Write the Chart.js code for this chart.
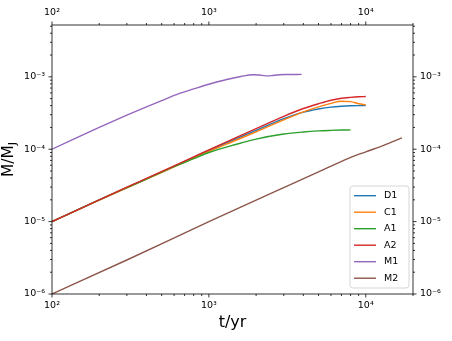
<!DOCTYPE html>
<html>
<head>
<meta charset="utf-8">
<script src="https://cdn.jsdelivr.net/npm/chart.js@4.4.0/dist/chart.umd.min.js"></script>
<style>
  html, body { margin: 0; padding: 0; background: #fff; }
  canvas { display: block; }
</style>
</head>
<body>
<canvas id="myChart" width="452" height="341"></canvas>
<script>
// time grids, yr
const tMain = [100, 150, 200, 300, 400, 600, 800, 1000, 1500, 2000, 3000, 4000, 5000, 6000, 7000, 8000, 9000, 10000];
const tA1 = [100, 150, 200, 300, 400, 600, 800, 1000, 1500, 2000, 3000, 4000, 5000, 6000, 7000, 8000];
const tM1 = [100, 150, 200, 300, 400, 500, 650, 800, 1000, 1300, 1600, 1900, 2100, 2300, 2500, 2800, 3200, 3900];
const tM2 = [100, 300, 1000, 3000, 5000, 7900, 10000, 13000, 17000];

// M/M_J values
const mD1 = [1e-5, 1.5e-5, 2e-5, 2.95e-5, 3.9e-5, 5.8e-5, 7.7e-5, 9.6e-5, 1.4e-4, 1.82e-4, 2.65e-4, 3.25e-4, 3.6e-4, 3.82e-4, 3.93e-4, 3.98e-4, 4.0e-4, 4.0e-4];
const mC1 = [1e-5, 1.49e-5, 1.98e-5, 2.92e-5, 3.85e-5, 5.7e-5, 7.5e-5, 9.3e-5, 1.34e-4, 1.74e-4, 2.55e-4, 3.28e-4, 3.85e-4, 4.3e-4, 4.6e-4, 4.55e-4, 4.25e-4, 4.1e-4];
const mA1 = [1e-5, 1.5e-5, 2e-5, 2.95e-5, 3.88e-5, 5.75e-5, 7.4e-5, 9.0e-5, 1.17e-4, 1.38e-4, 1.62e-4, 1.73e-4, 1.79e-4, 1.82e-4, 1.84e-4, 1.85e-4];
const mA2 = [1e-5, 1.5e-5, 2e-5, 3e-5, 3.95e-5, 5.9e-5, 7.85e-5, 9.8e-5, 1.46e-4, 1.93e-4, 2.85e-4, 3.65e-4, 4.25e-4, 4.75e-4, 5.05e-4, 5.2e-4, 5.3e-4, 5.35e-4];
const mM1 = [1e-4, 1.5e-4, 2e-4, 2.95e-4, 3.85e-4, 4.7e-4, 5.9e-4, 6.8e-4, 7.9e-4, 9.2e-4, 1.01e-3, 1.07e-3, 1.06e-3, 1.03e-3, 1.04e-3, 1.07e-3, 1.075e-3, 1.08e-3];
const mM2 = [1e-6, 2.95e-6, 1.0e-5, 2.95e-5, 4.85e-5, 7.6e-5, 9.2e-5, 1.13e-4, 1.43e-4];

const labels = ['D1', 'C1', 'A1', 'A2', 'M1', 'M2'];
const colors = ['#1f77b4', '#ff7f0e', '#2ca02c', '#d62728', '#9467bd', '#8c564b'];
const times = [tMain, tMain, tA1, tMain, tM1, tM2];
const masses = [mD1, mC1, mA1, mA2, mM1, mM2];

const xMin = 100, xMax = 20000;
const yMin = 1e-6, yMax = 5.2e-3;

const supMap = {'-': '⁻', '0': '⁰', '1': '¹', '2': '²', '3': '³', '4': '⁴', '5': '⁵', '6': '⁶', '7': '⁷', '8': '⁸', '9': '⁹'};
function powLabel(v) {
  const e = Math.log10(v);
  const r = Math.round(e);
  if (Math.abs(e - r) > 1e-6) return '';
  return '10' + String(r).split('').map(c => supMap[c]).join('');
}

const tickFont = { family: 'DejaVu Sans', size: 9.5 };

function logAxis(pos, lo, hi, size, pad) {
  return {
    type: 'logarithmic',
    position: pos,
    min: lo,
    max: hi,
    grid: { display: false, drawTicks: false },
    border: { display: false },
    ticks: { autoSkip: false, maxRotation: 0, padding: pad, color: '#000', font: tickFont, callback: v => powLabel(v) },
    afterFit: s => { if (pos === 'top' || pos === 'bottom') s.height = size; else s.width = size; }
  };
}

// frame, ticks, axis titles and legend
const decor = {
  id: 'decor',
  afterDraw(chart) {
    const { ctx, chartArea: a } = chart;
    ctx.save();
    ctx.strokeStyle = '#000';
    ctx.lineWidth = 0.8;
    ctx.strokeRect(a.left, a.top, a.right - a.left, a.bottom - a.top);

    ['x', 'x2', 'y', 'y2'].forEach(id => {
      const s = chart.scales[id];
      s.ticks.forEach(t => {
        const e = Math.floor(Math.log10(t.value) + 1e-9);
        const m = t.value / Math.pow(10, e);
        if (Math.abs(m - Math.round(m)) > 1e-6) return;
        const len = Math.round(m) === 1 ? 3.5 : 2;
        const p = s.getPixelForValue(t.value);
        ctx.beginPath();
        if (id === 'x') { ctx.moveTo(p, a.bottom); ctx.lineTo(p, a.bottom + len); }
        if (id === 'x2') { ctx.moveTo(p, a.top); ctx.lineTo(p, a.top - len); }
        if (id === 'y') { ctx.moveTo(a.left, p); ctx.lineTo(a.left - len, p); }
        if (id === 'y2') { ctx.moveTo(a.right, p); ctx.lineTo(a.right + len, p); }
        ctx.stroke();
      });
    });

    // axis titles
    ctx.fillStyle = '#000';
    ctx.font = '16px "DejaVu Sans"';
    ctx.textAlign = 'center';
    ctx.textBaseline = 'alphabetic';
    ctx.fillText('t/yr', (a.left + a.right) / 2, 326.5);

    ctx.save();
    ctx.translate(13, (a.top + a.bottom) / 2);
    ctx.rotate(-Math.PI / 2);
    const main = 'M/M';
    ctx.font = '15.5px "DejaVu Sans"';
    const w1 = ctx.measureText(main).width;
    ctx.font = '11px "DejaVu Sans"';
    const w2 = ctx.measureText('J').width;
    const x0 = -(w1 + w2) / 2;
    ctx.textAlign = 'left';
    ctx.font = '15.5px "DejaVu Sans"';
    ctx.fillText(main, x0, 0);
    ctx.font = '11px "DejaVu Sans"';
    ctx.fillText('J', x0 + w1, 3);
    ctx.restore();

    // legend
    const bx = 350, by = 186, bw = 59, bh = 102;
    ctx.beginPath();
    ctx.roundRect(bx, by, bw, bh, 3);
    ctx.fillStyle = 'rgba(255,255,255,0.8)';
    ctx.fill();
    ctx.strokeStyle = '#cccccc';
    ctx.lineWidth = 0.8;
    ctx.stroke();
    ctx.font = '9.5px "DejaVu Sans"';
    ctx.textAlign = 'left';
    ctx.textBaseline = 'middle';
    chart.data.datasets.forEach((ds, i) => {
      const yy = 195.7 + i * 16.5;
      ctx.strokeStyle = ds.borderColor;
      ctx.lineWidth = 1.4;
      ctx.beginPath();
      ctx.moveTo(354, yy);
      ctx.lineTo(376, yy);
      ctx.stroke();
      ctx.fillStyle = '#000';
      ctx.fillText(ds.label, 384, yy);
    });
    ctx.restore();
  }
};

const ctx = document.getElementById('myChart');
const myChart = new Chart(ctx, {
  type: 'line',
  data: {
    datasets: labels.map((name, i) => ({
      label: name,
      data: times[i].map((t, j) => ({ x: t, y: masses[i][j] })),
      borderColor: colors[i],
      backgroundColor: colors[i],
      borderWidth: 1.4,
      pointRadius: 0,
      cubicInterpolationMode: 'monotone',
      fill: false,
      order: labels.length - i,
      xAxisID: 'x',
      yAxisID: 'y'
    }))
  },
  options: {
    responsive: false,
    animation: false,
    events: [],
    layout: { padding: 0 },
    plugins: { legend: { display: false }, tooltip: { enabled: false } },
    scales: {
      x: logAxis('bottom', xMin, xMax, 47, 5.5),
      x2: logAxis('top', xMin, xMax, 25, 7),
      y: logAxis('left', yMin, yMax, 52, 7),
      y2: logAxis('right', yMin, yMax, 39, 7)
    }
  },
  plugins: [decor]
});
</script>
</body>
</html>
